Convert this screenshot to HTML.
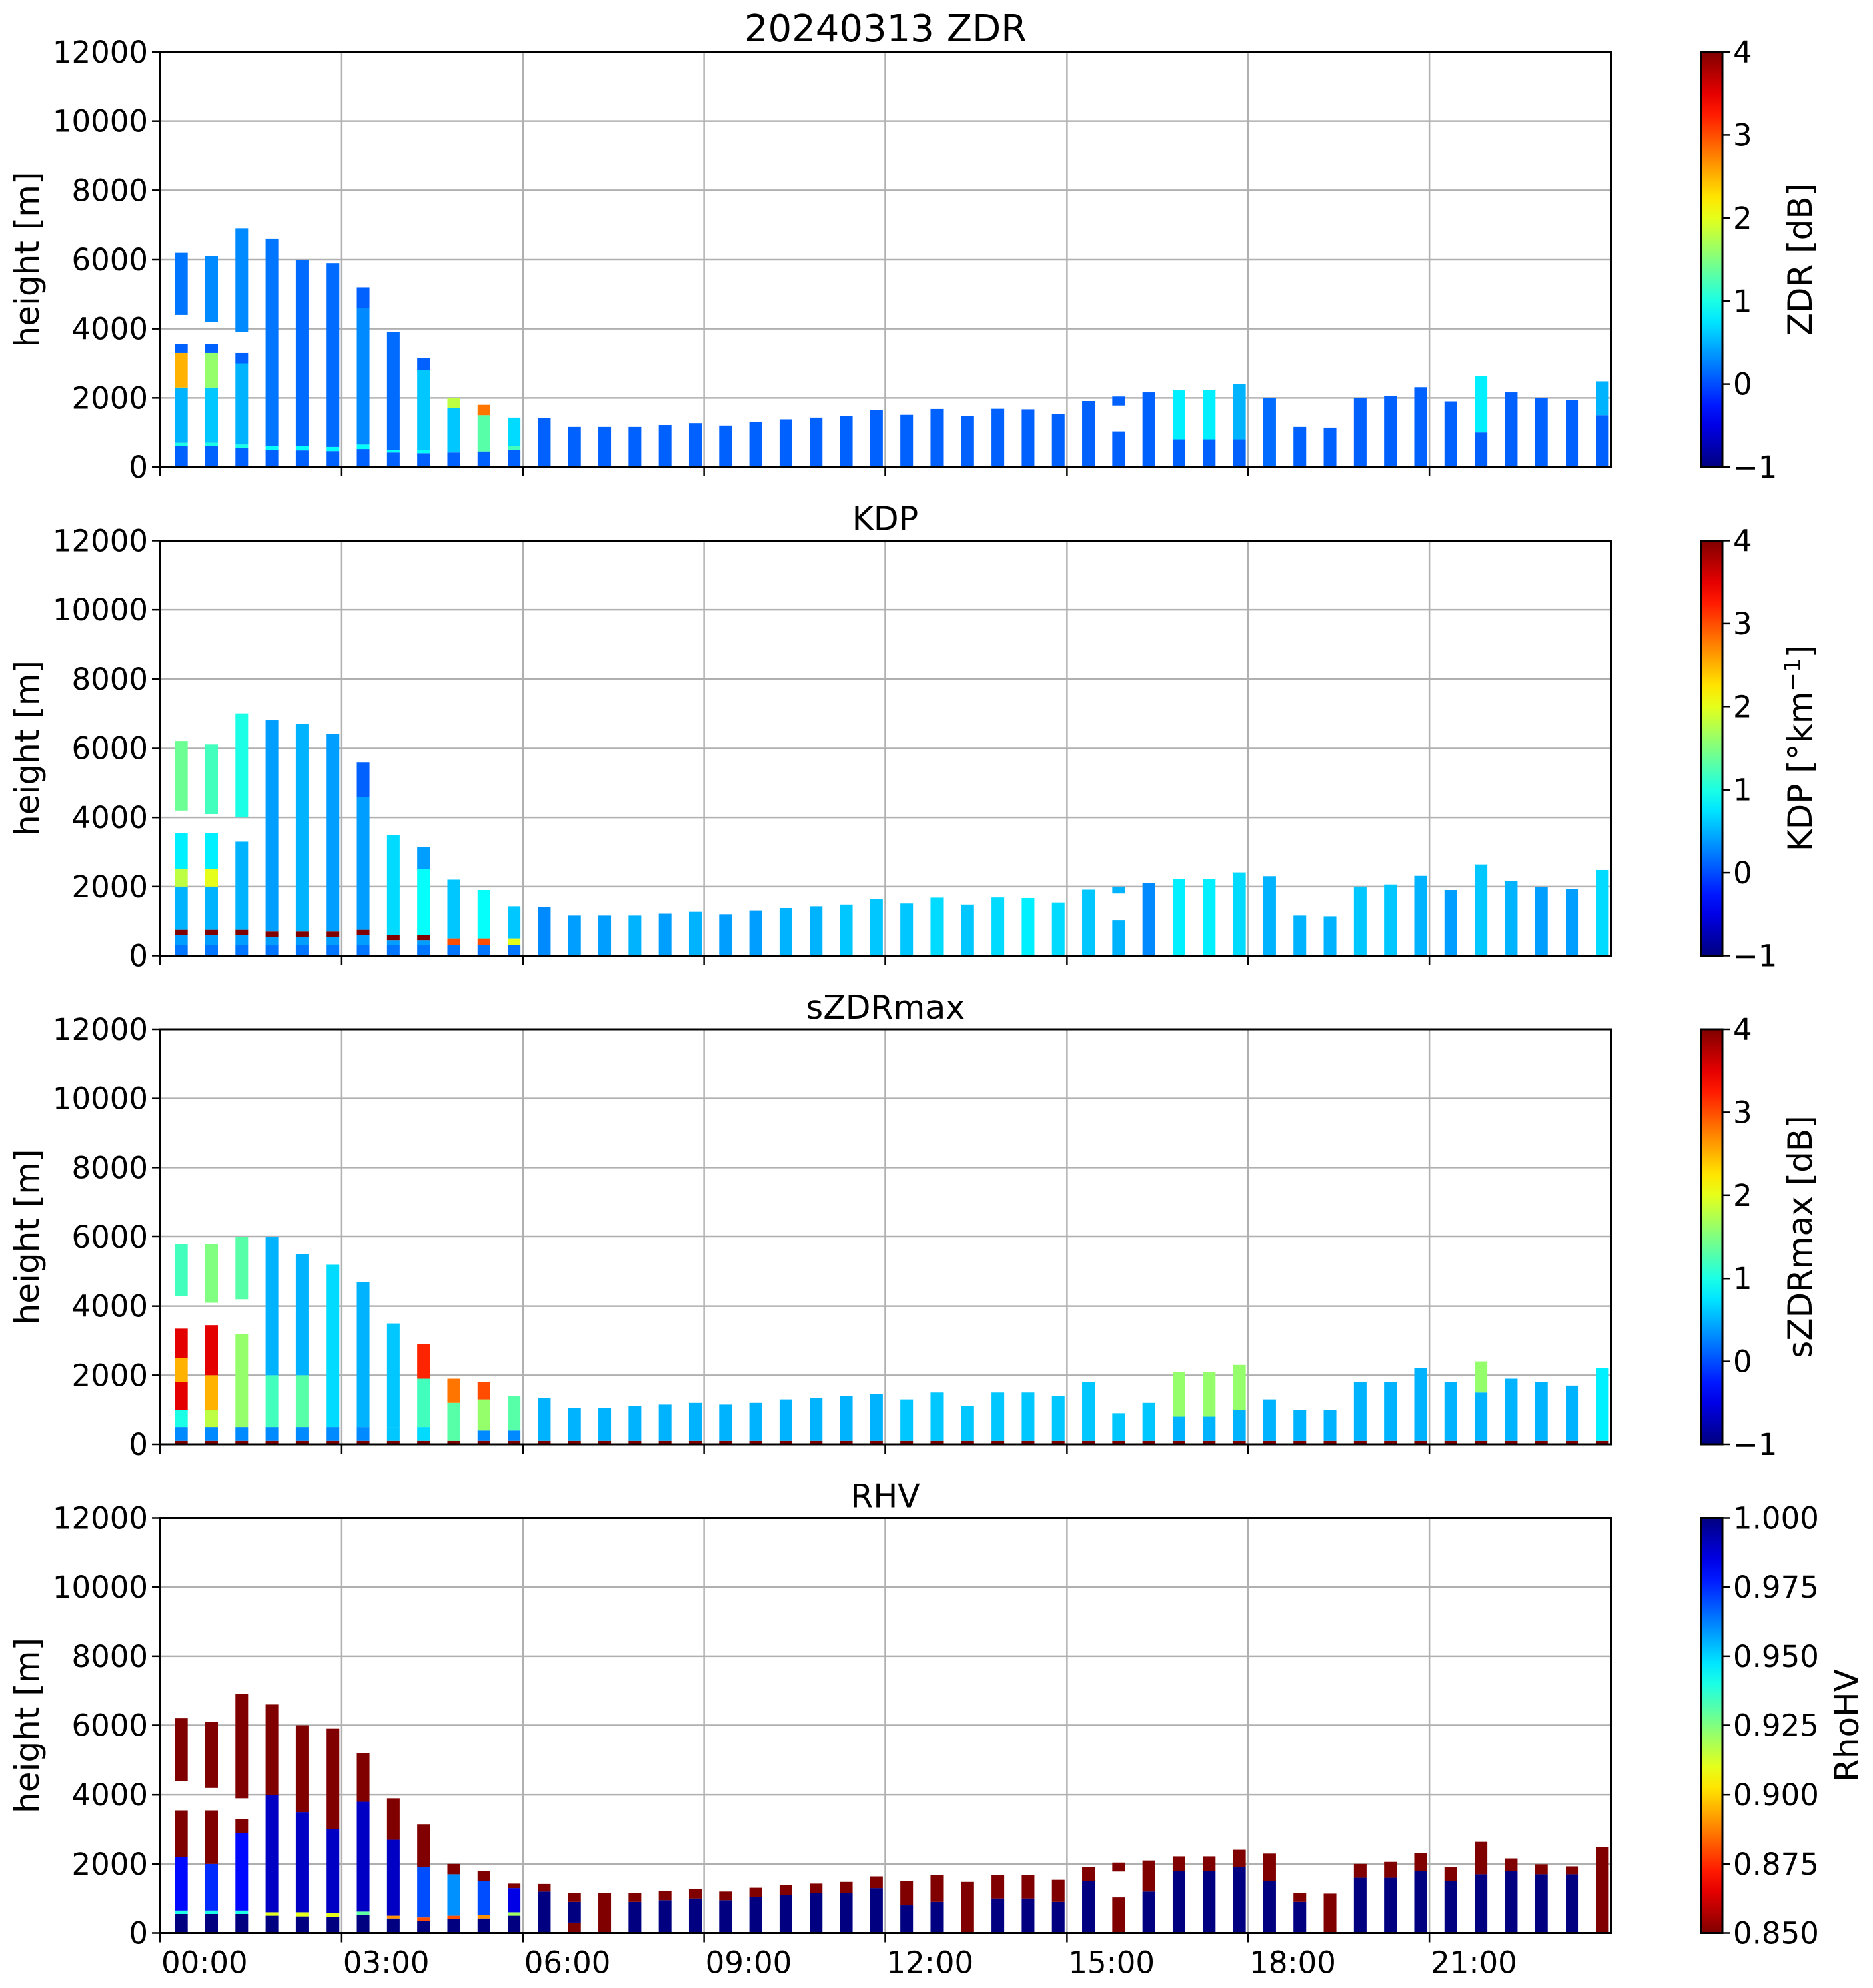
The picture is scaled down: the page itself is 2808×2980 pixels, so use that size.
<!DOCTYPE html>
<html><head><meta charset="utf-8"><style>
html,body{margin:0;padding:0;background:#fff;}
svg{display:block;font-family:"DejaVu Sans","Liberation Sans",sans-serif;}
</style></head><body>
<svg id="fig" width="2808" height="2980" viewBox="0 0 2808 2980" xmlns="http://www.w3.org/2000/svg"></svg>
<script>
// ---------- data ----------
const times = [0.25,0.75,1.25,1.75,2.25,2.75,3.25,3.75,4.25,4.75,5.25,5.75,6.25,6.75,7.25,7.75,8.25,8.75,9.25,9.75,10.25,10.75,11.25,11.75,12.25,12.75,13.25,13.75,14.25,14.75,15.25,15.75,16.25,16.75,17.25,17.75,18.25,18.75,19.25,19.75,20.25,20.75,21.25,21.75,22.25,22.75,23.25,23.75];
const xTickLabels = ["00:00","03:00","06:00","09:00","12:00","15:00","18:00","21:00"];
const xTickHours = [0,3,6,9,12,15,18,21];
const yTicks = [0,2000,4000,6000,8000,10000,12000];

const zdrLayers = [
 [[600,0.1],[700,1],[2300,0.5],[3300,2.5],[3550,0.1]],
 [[600,0.1],[700,1],[2300,0.6],[3300,1.6],[3550,0.1]],
 [[550,0.1],[650,1],[3000,0.5],[3300,0.1]],
 [[500,0.1],[600,0.9],[6600,0.2]],
 [[480,0.1],[600,0.9],[6000,0.15]],
 [[460,0.1],[580,0.9],[5900,0.15]],
 [[520,0.1],[650,0.9],[4600,0.3],[5200,0.1]],
 [[420,0.1],[500,0.9],[3900,0.15]],
 [[400,0.1],[500,0.9],[2800,0.6],[3150,0.1]],
 [[420,0.1],[1700,0.6],[2000,1.8]],
 [[450,0.1],[1500,1.3],[1800,2.8]],
 [[500,0.1],[600,1.2],[1430,0.7]],
 [[1420,0.1]],[[1160,0.1]],[[1160,0.1]],[[1160,0.1]],[[1215,0.1]],[[1270,0.1]],[[1200,0.1]],[[1310,0.1]],
 [[1380,0.1]],[[1430,0.1]],[[1480,0.1]],[[1640,0.1]],[[1510,0.1]],[[1680,0.1]],[[1480,0.1]],[[1685,0.1]],
 [[1670,0.1]],[[1540,0.1]],[[1910,0.1]],[[1030,0.1]],[[2160,0.1]],[[800,0.1],[2220,0.8]],[[800,0.1],[2220,0.8]],
 [[800,0.1],[2410,0.5]],[[2000,0.15]],[[1160,0.1]],[[1140,0.1]],[[2000,0.1]],[[2060,0.1]],[[2310,0.1]],
 [[1900,0.1]],[[1000,0.1],[2640,0.8]],[[2160,0.1]],[[1990,0.1]],[[1930,0.1]],[[1500,0.1],[2480,0.5]]
];
const zdrUpper = [[0,4400,6200,0.2],[1,4200,6100,0.3],[2,3900,6900,0.3],[31,1780,2040,0.1]];

const kdpLayers = [
 [[300,0.2],[600,0.4],[750,4],[2000,0.5],[2500,1.8],[3550,0.8]],
 [[300,0.2],[600,0.4],[750,4],[2000,0.5],[2500,2.0],[3550,0.8]],
 [[300,0.2],[600,0.4],[750,4],[3300,0.5]],
 [[300,0.2],[550,0.4],[700,4],[6800,0.4]],
 [[300,0.2],[550,0.4],[700,4],[6700,0.5]],
 [[300,0.2],[550,0.4],[700,4],[6400,0.4]],
 [[300,0.2],[600,0.4],[750,4],[4600,0.4],[5600,0.1]],
 [[300,0.2],[450,0.4],[600,4],[3500,0.7]],
 [[300,0.2],[450,0.4],[600,4],[2500,0.9],[3150,0.4]],
 [[300,0.2],[500,3],[2200,0.6]],
 [[300,0.2],[500,3],[1900,0.9]],
 [[300,0.2],[500,2],[1430,0.6]],
 [[1400,0.3]],[[1160,0.4]],[[1160,0.4]],[[1160,0.5]],[[1215,0.4]],[[1270,0.5]],[[1200,0.4]],[[1310,0.4]],
 [[1380,0.5]],[[1430,0.5]],[[1480,0.6]],[[1640,0.6]],[[1510,0.6]],[[1680,0.7]],[[1480,0.6]],[[1685,0.7]],
 [[1670,0.8]],[[1540,0.7]],[[1910,0.6]],[[1030,0.5]],[[2100,0.3]],[[2220,0.8]],[[2220,0.8]],
 [[2410,0.7]],[[2300,0.5]],[[1160,0.5]],[[1140,0.5]],[[2000,0.6]],[[2060,0.6]],[[2310,0.5]],
 [[1900,0.4]],[[2640,0.6]],[[2160,0.5]],[[1990,0.4]],[[1930,0.4]],[[2480,0.7]]
];
const kdpUpper = [[0,4200,6200,1.4],[1,4100,6100,1.2],[2,4000,7000,1.0],[31,1800,2000,0.5]];

const szdrLayers = [
 [[100,4],[500,0.3],[1000,1.0],[1800,3.5],[2500,2.5],[3350,3.5]],
 [[100,4],[500,0.3],[1000,1.8],[2000,2.5],[3450,3.5]],
 [[100,4],[500,0.3],[3200,1.6]],
 [[100,4],[500,0.3],[2000,1.2],[6000,0.5]],
 [[100,4],[500,0.3],[2000,1.3],[5500,0.5]],
 [[100,4],[500,0.3],[5200,0.7]],
 [[100,4],[500,0.3],[4700,0.5]],
 [[100,4],[500,0.6],[3500,0.6]],
 [[100,4],[500,0.7],[1900,1.2],[2900,3.2]],
 [[100,4],[1200,1.3],[1900,2.8]],
 [[100,4],[400,0.3],[1300,1.6],[1800,3.0]],
 [[100,4],[400,0.3],[1400,1.3]],
 [[100,4],[1350,0.5]],[[100,4],[1050,0.5]],[[100,4],[1050,0.5]],[[100,4],[1100,0.5]],[[100,4],[1150,0.5]],
 [[100,4],[1200,0.5]],[[100,4],[1150,0.5]],[[100,4],[1200,0.5]],[[100,4],[1300,0.5]],[[100,4],[1350,0.5]],
 [[100,4],[1400,0.5]],[[100,4],[1450,0.5]],[[100,4],[1300,0.6]],[[100,4],[1500,0.6]],[[100,4],[1100,0.6]],
 [[100,4],[1500,0.6]],[[100,4],[1500,0.6]],[[100,4],[1400,0.6]],[[100,4],[1800,0.6]],[[100,4],[900,0.6]],
 [[100,4],[1200,0.6]],[[100,4],[800,0.5],[2100,1.6]],[[100,4],[800,0.5],[2100,1.6]],[[100,4],[1000,0.5],[2300,1.6]],
 [[100,4],[1300,0.5]],[[100,4],[1000,0.5]],[[100,4],[1000,0.5]],[[100,4],[1800,0.5]],[[100,4],[1800,0.5]],
 [[100,4],[2200,0.5]],[[100,4],[1800,0.5]],[[100,4],[1500,0.5],[2400,1.6]],[[100,4],[1900,0.5]],
 [[100,4],[1800,0.5]],[[100,4],[1700,0.5]],[[100,4],[2200,0.8]]
];
const szdrUpper = [[0,4300,5800,1.2],[1,4100,5800,1.5],[2,4200,6000,1.3]];

const rhvLayers = [
 [[550,1.0],[650,0.94],[2200,0.98],[3550,0.85]],
 [[550,1.0],[650,0.94],[2000,0.975],[3550,0.85]],
 [[550,1.0],[650,0.94],[2900,0.98],[3300,0.85]],
 [[500,1.0],[600,0.91],[4000,0.99],[6600,0.85]],
 [[480,1.0],[600,0.91],[3500,0.99],[6000,0.85]],
 [[460,1.0],[580,0.91],[3000,0.99],[5900,0.85]],
 [[520,1.0],[620,0.93],[3800,0.99],[5200,0.85]],
 [[420,1.0],[500,0.89],[2700,0.99],[3900,0.85]],
 [[350,1.0],[450,0.88],[1900,0.97],[3150,0.85]],
 [[400,1.0],[500,0.88],[1700,0.96],[2000,0.85]],
 [[420,1.0],[520,0.89],[1500,0.97],[1800,0.85]],
 [[500,1.0],[600,0.92],[1300,0.985],[1430,0.85]],
 [[1200,1.0],[1420,0.85]],[[300,0.85],[900,1.0],[1160,0.85]],[[1160,0.85]],[[900,1.0],[1160,0.85]],
 [[950,1.0],[1215,0.85]],[[1000,1.0],[1270,0.85]],[[950,1.0],[1200,0.85]],[[1050,1.0],[1310,0.85]],
 [[1100,1.0],[1380,0.85]],[[1150,1.0],[1430,0.85]],[[1150,1.0],[1480,0.85]],[[1300,1.0],[1640,0.85]],
 [[800,1.0],[1510,0.85]],[[900,1.0],[1680,0.85]],[[1480,0.85]],[[1000,1.0],[1685,0.85]],[[1000,1.0],[1670,0.85]],[[900,1.0],[1540,0.85]],
 [[1500,1.0],[1910,0.85]],[[1030,0.85]],[[1200,1.0],[2100,0.85]],[[1800,1.0],[2220,0.85]],[[1800,1.0],[2220,0.85]],
 [[1900,1.0],[2410,0.85]],[[1500,1.0],[2300,0.85]],[[900,1.0],[1160,0.85]],[[1140,0.85]],[[1600,1.0],[2000,0.85]],
 [[1600,1.0],[2060,0.85]],[[1800,1.0],[2310,0.85]],[[1500,1.0],[1900,0.85]],[[1700,1.0],[2640,0.85]],
 [[1800,1.0],[2160,0.85]],[[1700,1.0],[1990,0.85]],[[1700,1.0],[1930,0.85]],[[1500,0.85],[2480,0.85]]
];
const rhvUpper = [[0,4400,6200,0.85],[1,4200,6100,0.85],[2,3900,6900,0.85],[31,1780,2040,0.85]];

const zdrCbTicks = [-1,0,1,2,3,4];
const rhvCbTicks = [0.85,0.875,0.9,0.925,0.95,0.975,1.0];
const rhvCbLabels = ["0.850","0.875","0.900","0.925","0.950","0.975","1.000"];

// ---------- layout ----------
const NS="http://www.w3.org/2000/svg";
const svg=document.getElementById('fig');
const AX_L=240, AX_R=2415, PH=622;
const panelTops=[78,810.5,1543,2275.5];
const CB_L=2550, CB_W=32;
const COLW=0.21;
const FS=45;
function xScale(h){return AX_L+(AX_R-AX_L)*h/24;}
function mk(tag,attrs,parent){const e=document.createElementNS(NS,tag);for(const k in attrs)e.setAttribute(k,attrs[k]);(parent||svg).appendChild(e);return e;}
function jet(t){t=Math.max(0,Math.min(1,t));
 const r=Math.max(0,Math.min(1,Math.min(4*t-1.5,-4*t+4.5)));
 const g=Math.max(0,Math.min(1,Math.min(4*t-0.5,-4*t+3.5)));
 const b=Math.max(0,Math.min(1,Math.min(4*t+0.5,-4*t+2.5)));
 return `rgb(${Math.round(r*255)},${Math.round(g*255)},${Math.round(b*255)})`;}

const panels=[
 {title:"20240313 ZDR",tsize:56,layers:zdrLayers,upper:zdrUpper,vmin:-1,vmax:4,rev:false,cbl:"ZDR [dB]",name:"zdr"},
 {title:"KDP",tsize:49,layers:kdpLayers,upper:kdpUpper,vmin:-1,vmax:4,rev:false,cbl:"KDP",name:"kdp"},
 {title:"sZDRmax",tsize:49,layers:szdrLayers,upper:szdrUpper,vmin:-1,vmax:4,rev:false,cbl:"sZDRmax [dB]",name:"szdrmax"},
 {title:"RHV",tsize:49,layers:rhvLayers,upper:rhvUpper,vmin:0.85,vmax:1.0,rev:true,cbl:"RhoHV",name:"rhv"}
];

panels.forEach((p,pi)=>{
 const top=panelTops[pi], bot=top+PH;
 const yS=v=>bot-PH*v/12000;
 const col=v=>{let t=(v-p.vmin)/(p.vmax-p.vmin); if(p.rev)t=1-t; return jet(t);};
 const g=mk('g',{});
 
 
 xTickHours.forEach(h=>{const l=mk('line',{x1:xScale(h),x2:xScale(h),y1:top,y2:bot,stroke:'#b0b0b0','stroke-width':2.5},g);
  });
 yTicks.forEach(v=>{const l=mk('line',{x1:AX_L,x2:AX_R,y1:yS(v),y2:yS(v),stroke:'#b0b0b0','stroke-width':2.5},g);
  });
 const dg=mk('g',{},g);
 
 
 p.layers.forEach((lay,k)=>{
  let base=0; const x0=xScale(times[k]), w=xScale(times[k]+COLW)-x0;
  lay.forEach(([t,v])=>{
   const r=mk('rect',{x:x0,y:yS(t),width:w,height:Math.max(0,yS(base)-yS(t)),fill:col(v)},dg);
   
   
   base=t;});
 });
 p.upper.forEach(([k,b,t,v])=>{
  const x0=xScale(times[k]), w=xScale(times[k]+COLW)-x0;
  const r=mk('rect',{x:x0,y:yS(t),width:w,height:yS(b)-yS(t),fill:col(v)},dg);
  
  
 });
 const fr=mk('rect',{x:AX_L,y:top,width:AX_R-AX_L,height:PH,fill:'none',stroke:'#000','stroke-width':3},g);
 
 yTicks.forEach(v=>{
  mk('line',{x1:AX_L-12,x2:AX_L,y1:yS(v),y2:yS(v),stroke:'#000','stroke-width':2.5},g);
  const t=mk('text',{x:AX_L-18,y:yS(v)+16,'text-anchor':'end','font-size':FS},g);
  t.textContent=v;  
 });
 xTickHours.forEach((h,i)=>{
  mk('line',{x1:xScale(h),x2:xScale(h),y1:bot,y2:bot+14,stroke:'#000','stroke-width':2.5},g);
  if(pi===3){const t=mk('text',{x:xScale(h)+2,y:bot+60,'text-anchor':'start','font-size':FS},g);
   t.textContent=xTickLabels[i];  }
 });
 const yl=mk('text',{x:0,y:0,'text-anchor':'middle','font-size':50,transform:`translate(58,${top+PH/2}) rotate(-90)`},g);
 yl.textContent='height [m]';  
 const tt=mk('text',{x:(AX_L+AX_R)/2,y:top-16,'text-anchor':'middle','font-size':p.tsize},g);
 tt.textContent=p.title;  
 const cb=mk('g',{},g);
 
 
 const gid='grad'+pi;
 const defs=mk('defs',{},cb);
 const lg=mk('linearGradient',{id:gid,x1:0,y1:1,x2:0,y2:0},defs);
 for(let i=0;i<=20;i++){const t=i/20; mk('stop',{offset:t,'stop-color':jet(p.rev?1-t:t)},lg);}
 mk('rect',{x:CB_L,y:top,width:CB_W,height:PH,fill:`url(#${gid})`,stroke:'#000','stroke-width':3},cb);
 const ticks=p.rev?rhvCbTicks:zdrCbTicks;
 ticks.forEach((v,i)=>{
  const y=bot-PH*(v-p.vmin)/(p.vmax-p.vmin);
  mk('line',{x1:CB_L+CB_W,x2:CB_L+CB_W+12,y1:y,y2:y,stroke:'#000','stroke-width':2.5},cb);
  const t=mk('text',{x:CB_L+CB_W+16,y:y+16,'font-size':FS},cb);
  t.textContent=p.rev?rhvCbLabels[i]:(v<0?'\u2212'+Math.abs(v):String(v));
   
 });
 const lx=p.rev?2786:2716;
 const cl=mk('text',{x:0,y:0,'text-anchor':'middle','font-size':50,transform:`translate(${lx},${top+PH/2}) rotate(-90)`},cb);
 if(p.name==='kdp'){cl.innerHTML='KDP [°km<tspan dy="-17" font-size="34">\u22121</tspan><tspan dy="17">]</tspan>';}
 else cl.textContent=p.cbl;
  
});
</script>
</body></html>
